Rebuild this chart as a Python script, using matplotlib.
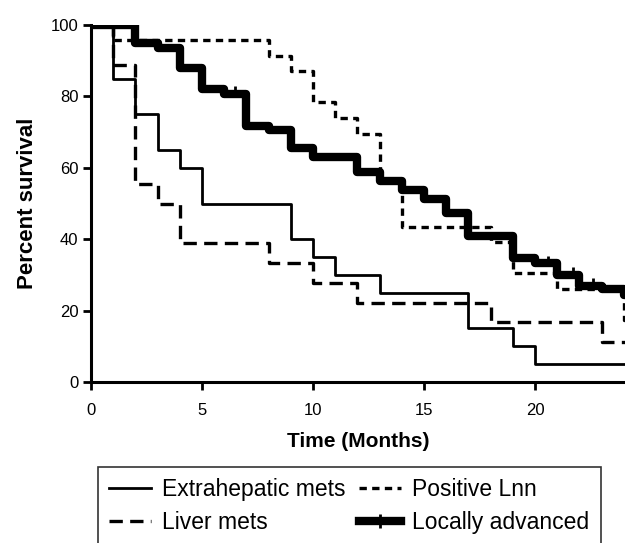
import numpy as np
import matplotlib
matplotlib.use("Agg")
import matplotlib.pyplot as plt
from matplotlib.lines import Line2D

plt.rcParams['font.family'] = ['Liberation Sans', 'DejaVu Sans']

# Kaplan-Meier steps (months, percent survival)
extra_t = [0, 1, 2, 3, 4, 5, 9, 10, 11, 13, 17, 19, 20, 24.1]
extra_s = [100, 85, 75, 65, 60, 50, 40, 35, 30, 25, 15, 10, 5, 5]

liver_t = [0, 1, 2, 3, 4, 8, 10, 12, 18, 23, 24.1]
liver_s = [100, 88.9, 55.6, 50, 38.9, 33.3, 27.8, 22.2, 16.7, 11.1, 11.1]

lnn_t = [0, 1, 8, 9, 10, 11, 12, 13, 14, 18, 19, 21, 24, 24.1]
lnn_s = [100, 95.7, 91.3, 87.0, 78.3, 73.9, 69.6, 56.5, 43.5, 39.1, 30.4, 26.1, 17.4, 17.4]

local_t = [0, 2, 3, 4, 5, 6, 7, 8, 9, 10, 12, 13, 14, 15, 16, 17, 19, 20, 21, 22, 23, 24, 24.1]
local_s = [100, 95, 93.5, 88, 82, 80.7, 71.8, 70.6, 65.5, 63, 58.8, 56.3, 53.8, 51.3,
           47.3, 40.9, 34.7, 33.3, 30, 27, 26, 24.4, 24.4]
local_censor = [1, 6.5, 20.6, 21.7, 22.6]

fig = plt.figure(figsize=(6.25, 5.43), dpi=100)
ax = fig.add_axes([91/625, 1-382/543, 1-91/625, (382-25)/543])

ax.step(extra_t, extra_s, where='post', color='black', lw=2)
ax.step(liver_t, liver_s, where='post', color='black', lw=2.4, linestyle=(0, (4, 2.2)))
ax.step(lnn_t, lnn_s, where='post', color='black', lw=2.4, linestyle=(0, (2.2, 1.6)))
ax.step(local_t, local_s, where='post', color='black', lw=6)

# censor ticks on the locally advanced curve
idx = np.searchsorted(local_t, local_censor, side='right') - 1
cy = np.array(local_s)[idx]
ax.plot(local_censor, cy + 1, linestyle='none', marker='|', color='black',
        markersize=6, markeredgewidth=2)

ax.set_xlim(0, 24.05)
ax.set_ylim(0, 100)
ax.set_xticks([0, 5, 10, 15, 20])
ax.set_yticks([0, 20, 40, 60, 80, 100])
ax.tick_params(direction='out', length=6, width=2, labelsize=12)
ax.tick_params(axis='x', pad=9)
ax.tick_params(axis='y', pad=3)
for s in ['top', 'right']:
    ax.spines[s].set_visible(False)
for s in ['left', 'bottom']:
    ax.spines[s].set_linewidth(2.2)

ax.set_ylabel("Percent survival", fontsize=16, fontweight='bold', labelpad=9)
ax.set_xlabel("Time (Months)", fontsize=15, fontweight='bold', labelpad=10)

handles = [
    Line2D([], [], color='black', lw=2),
    Line2D([], [], color='black', lw=2.4, linestyle=(0, (4, 2.2))),
    Line2D([], [], color='black', lw=2.4, linestyle=(0, (2.2, 1.6))),
    Line2D([], [], color='black', lw=6, marker='|', markersize=10, markeredgewidth=2),
]
labels = ["Extrahepatic mets", "Liver mets", "Positive Lnn", "Locally advanced"]
leg = fig.legend(handles, labels, ncol=2, loc='upper left',
                 bbox_to_anchor=(98/625, 1-467/543), borderaxespad=0,
                 fontsize=16.5, frameon=True,
                 fancybox=False, edgecolor='black', handlelength=1.8,
                 handletextpad=0.5, columnspacing=0.6, borderpad=0.5,
                 labelspacing=0.4)
leg.get_frame().set_linewidth(1.2)

fig.savefig("out.png", dpi=100)
